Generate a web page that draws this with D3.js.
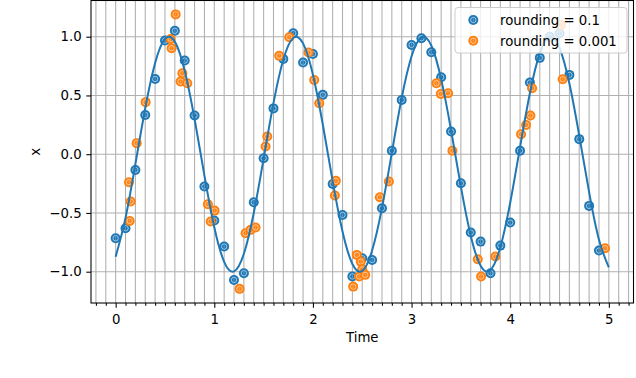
<!DOCTYPE html>
<html>
<head>
<meta charset="utf-8">
<script src="https://cdn.jsdelivr.net/npm/d3@7"></script>
<style>
  html, body { margin: 0; padding: 0; background: #fff; }
  svg { display: block; font-family: "DejaVu Sans", sans-serif; }
</style>
</head>
<body>
<svg id="chart" width="636" height="378"></svg>
<script>
'use strict';

// fitted curve, sampled every 0.1 in time
const lineT = [0.0, 0.1, 0.2, 0.3, 0.4, 0.5, 0.6, 0.7, 0.8, 0.9,
  1.0, 1.1, 1.2, 1.3, 1.4, 1.5, 1.6, 1.7, 1.8, 1.9,
  2.0, 2.1, 2.2, 2.3, 2.4, 2.5, 2.6, 2.7, 2.8, 2.9,
  3.0, 3.1, 3.2, 3.3, 3.4, 3.5, 3.6, 3.7, 3.8, 3.9,
  4.0, 4.1, 4.2, 4.3, 4.4, 4.5, 4.6, 4.7, 4.8, 4.9, 5.0];
const lineX = [-0.872, -0.542, -0.085, 0.391, 0.776, 0.981, 0.958, 0.711, 0.300, -0.182,
  -0.621, -0.916, -0.997, -0.847, -0.500, -0.037, 0.435, 0.806, 0.989, 0.943,
  0.676, 0.253, -0.229, -0.658, -0.934, -0.993, -0.820, -0.457, 0.012, 0.479,
  0.834, 0.995, 0.925, 0.639, 0.206, -0.276, -0.694, -0.950, -0.985, -0.792,
  -0.413, 0.061, 0.521, 0.860, 0.999, 0.905, 0.601, 0.158, -0.323, -0.728, -0.964];

// rounding = 0.1
const blueT = [0.0, 0.1, 0.2, 0.3, 0.4, 0.5, 0.6, 0.7, 0.8, 0.9,
  1.0, 1.1, 1.2, 1.3, 1.4, 1.5, 1.6, 1.7, 1.8, 1.9,
  2.0, 2.1, 2.2, 2.3, 2.4, 2.5, 2.6, 2.7, 2.8, 2.9,
  3.0, 3.1, 3.2, 3.3, 3.4, 3.5, 3.6, 3.7, 3.8, 3.9,
  4.0, 4.1, 4.2, 4.3, 4.4, 4.5, 4.6, 4.7, 4.8, 4.9];
const blueX = [-0.715, -0.63, -0.134, 0.334, 0.64, 0.967, 1.05, 0.797, 0.33, -0.275,
  -0.565, -0.786, -1.07, -1.013, -0.409, -0.034, 0.39, 0.81, 1.03, 0.78,
  0.853, 0.505, -0.253, -0.517, -1.04, -0.885, -0.90, -0.46, 0.03, 0.462,
  0.93, 0.987, 0.868, 0.655, 0.193, -0.247, -0.667, -0.744, -1.013, -0.778,
  -0.582, 0.03, 0.61, 0.82, 1.0, 1.03, 0.675, 0.128, -0.44, -0.82];

// rounding = 0.001
const orangeT = [0.135, 0.152, 0.142, 0.213, 0.304, 0.557, 0.567, 0.608, 0.658, 0.676,
  0.726, 0.935, 0.963, 1.003, 1.256, 1.317, 1.368, 1.418, 1.52, 1.537,
  1.658, 1.76, 1.955, 2.013, 2.064, 2.222, 2.232, 2.408, 2.445, 2.469,
  2.485, 2.50, 2.53, 2.678, 2.77, 3.252, 3.296, 3.37, 3.414, 3.671,
  3.705, 3.85, 4.11, 4.161, 4.205, 4.222, 4.515, 4.532, 4.961];
const orangeX = [-0.238, -0.403, -0.568, 0.094, 0.443, 0.981, 0.902, 1.19, 0.618, 0.689,
  0.604, -0.426, -0.573, -0.48, -1.146, -0.673, -0.644, -0.624, 0.065, 0.15,
  0.837, 0.996, 0.865, 0.632, 0.434, -0.352, -0.227, -1.127, -0.857, -1.041,
  -0.914, -0.98, -1.027, -0.366, -0.233, 0.604, 0.513, 0.519, 0.03, -0.894,
  -1.041, -0.871, 0.17, 0.249, 0.329, 0.562, 1.10, 0.638, -0.80];

const xTicks = [0, 1, 2, 3, 4, 5];
const yTicks = [-1.0, -0.5, 0.0, 0.5, 1.0];
const legendLabels = ['rounding = 0.1', 'rounding = 0.001'];

const blue = '#1f77b4', orange = '#ff7f0e';
const svg = d3.select('#chart');

const x = d3.scaleLinear().domain([-0.25, 5.25]).range([91, 633.5]);
const y = d3.scaleLinear().domain([-1.2664, 1.3081]).range([303, 0.5]);

const plot = svg.append('g');

// grid: every minor tick in x, majors in y
plot.append('g')
  .selectAll('line')
  .data(x.ticks(55))
  .join('line')
  .attr('x1', (d) => x(d)).attr('x2', (d) => x(d))
  .attr('y1', y.range()[0]).attr('y2', y.range()[1])
  .attr('stroke', '#b0b0b0').attr('stroke-width', 1.07);
plot.append('g')
  .selectAll('line')
  .data(yTicks)
  .join('line')
  .attr('x1', x.range()[0]).attr('x2', x.range()[1])
  .attr('y1', (d) => y(d)).attr('y2', (d) => y(d))
  .attr('stroke', '#b0b0b0').attr('stroke-width', 1.07);

// markers: filled dot with a faint white ring
const drawMarker = (sel, color) => {
  sel.append('circle').attr('r', 5).attr('fill', color);
  sel.append('circle').attr('r', 2.7).attr('fill', 'none')
    .attr('stroke', '#fff').attr('stroke-width', 0.8).attr('stroke-opacity', 0.7);
  sel.append('line').attr('x1', 0).attr('x2', 0).attr('y1', -1.5).attr('y2', 1.5)
    .attr('stroke', '#fff').attr('stroke-width', 0.6).attr('stroke-opacity', 0.45);
};

[[blueT, blueX, blue], [orangeT, orangeX, orange]].forEach(([ts, vs, c]) => {
  plot.append('g')
    .selectAll('g')
    .data(ts.map((t, i) => [t, vs[i]]))
    .join('g')
    .attr('transform', (d) => `translate(${x(d[0])},${y(d[1])})`)
    .call(drawMarker, c);
});

// fitted line on top of the markers
plot.append('path')
  .datum(lineT.map((t, i) => [t, lineX[i]]))
  .attr('fill', 'none')
  .attr('stroke', blue)
  .attr('stroke-width', 2)
  .attr('stroke-linejoin', 'round')
  .attr('d', d3.line().x((d) => x(d[0])).y((d) => y(d[1])).curve(d3.curveNatural));

// axes
const fmt = (d) => d3.format('.1f')(d).replace('-', '\u2212');
const xAxis = svg.append('g')
  .attr('transform', 'translate(0,303)')
  .call(d3.axisBottom(x).tickValues(xTicks).tickFormat(d3.format('d'))
    .tickSizeInner(4.7).tickSizeOuter(0).tickPadding(6.5));
svg.append('g')
  .attr('transform', 'translate(0,303)')
  .call(d3.axisBottom(x).tickValues(x.ticks(55).filter((d) => !xTicks.includes(d)))
    .tickFormat('').tickSizeInner(2.7).tickSizeOuter(0))
  .call((g) => g.select('.domain').remove());
const yAxis = svg.append('g')
  .attr('transform', 'translate(91,0)')
  .call(d3.axisLeft(y).tickValues(yTicks).tickFormat(fmt)
    .tickSizeInner(4.7).tickSizeOuter(0).tickPadding(4.7));

svg.selectAll('.tick line').attr('stroke', '#000').attr('stroke-width', 1.07);
[xAxis, yAxis].forEach((g) => {
  g.selectAll('text').attr('fill', '#000').attr('font-size', 13.3)
    .attr('font-family', '"DejaVu Sans", sans-serif');
  g.select('.domain').remove();
});

// spines
svg.append('rect')
  .attr('x', x.range()[0]).attr('y', y.range()[1])
  .attr('width', x.range()[1] - x.range()[0])
  .attr('height', y.range()[0] - y.range()[1])
  .attr('fill', 'none').attr('stroke', '#000').attr('stroke-width', 1.07);

// axis labels
svg.append('text')
  .attr('x', (x.range()[0] + x.range()[1]) / 2).attr('y', 341.7)
  .attr('text-anchor', 'middle').attr('font-size', 13.3)
  .text('Time');
svg.append('text')
  .attr('transform', `translate(39.5,${(y.range()[0] + y.range()[1]) / 2}) rotate(-90)`)
  .attr('text-anchor', 'middle').attr('font-size', 13.3)
  .text('x');

// legend
const leg = svg.append('g');
leg.append('rect')
  .attr('x', 455).attr('y', 7.5).attr('width', 172).attr('height', 45.5)
  .attr('rx', 3).attr('fill', '#fff').attr('fill-opacity', 0.8)
  .attr('stroke', '#cccccc').attr('stroke-width', 1);
legendLabels.forEach((lab, i) => {
  const ly = 20 + i * 20.8;
  leg.append('g').attr('transform', `translate(473.3,${ly})`)
    .call(drawMarker, [blue, orange][i]);
  leg.append('text').attr('x', 500).attr('y', ly + 4.8)
    .attr('font-size', 13.3).text(lab);
});
</script>
</body>
</html>
